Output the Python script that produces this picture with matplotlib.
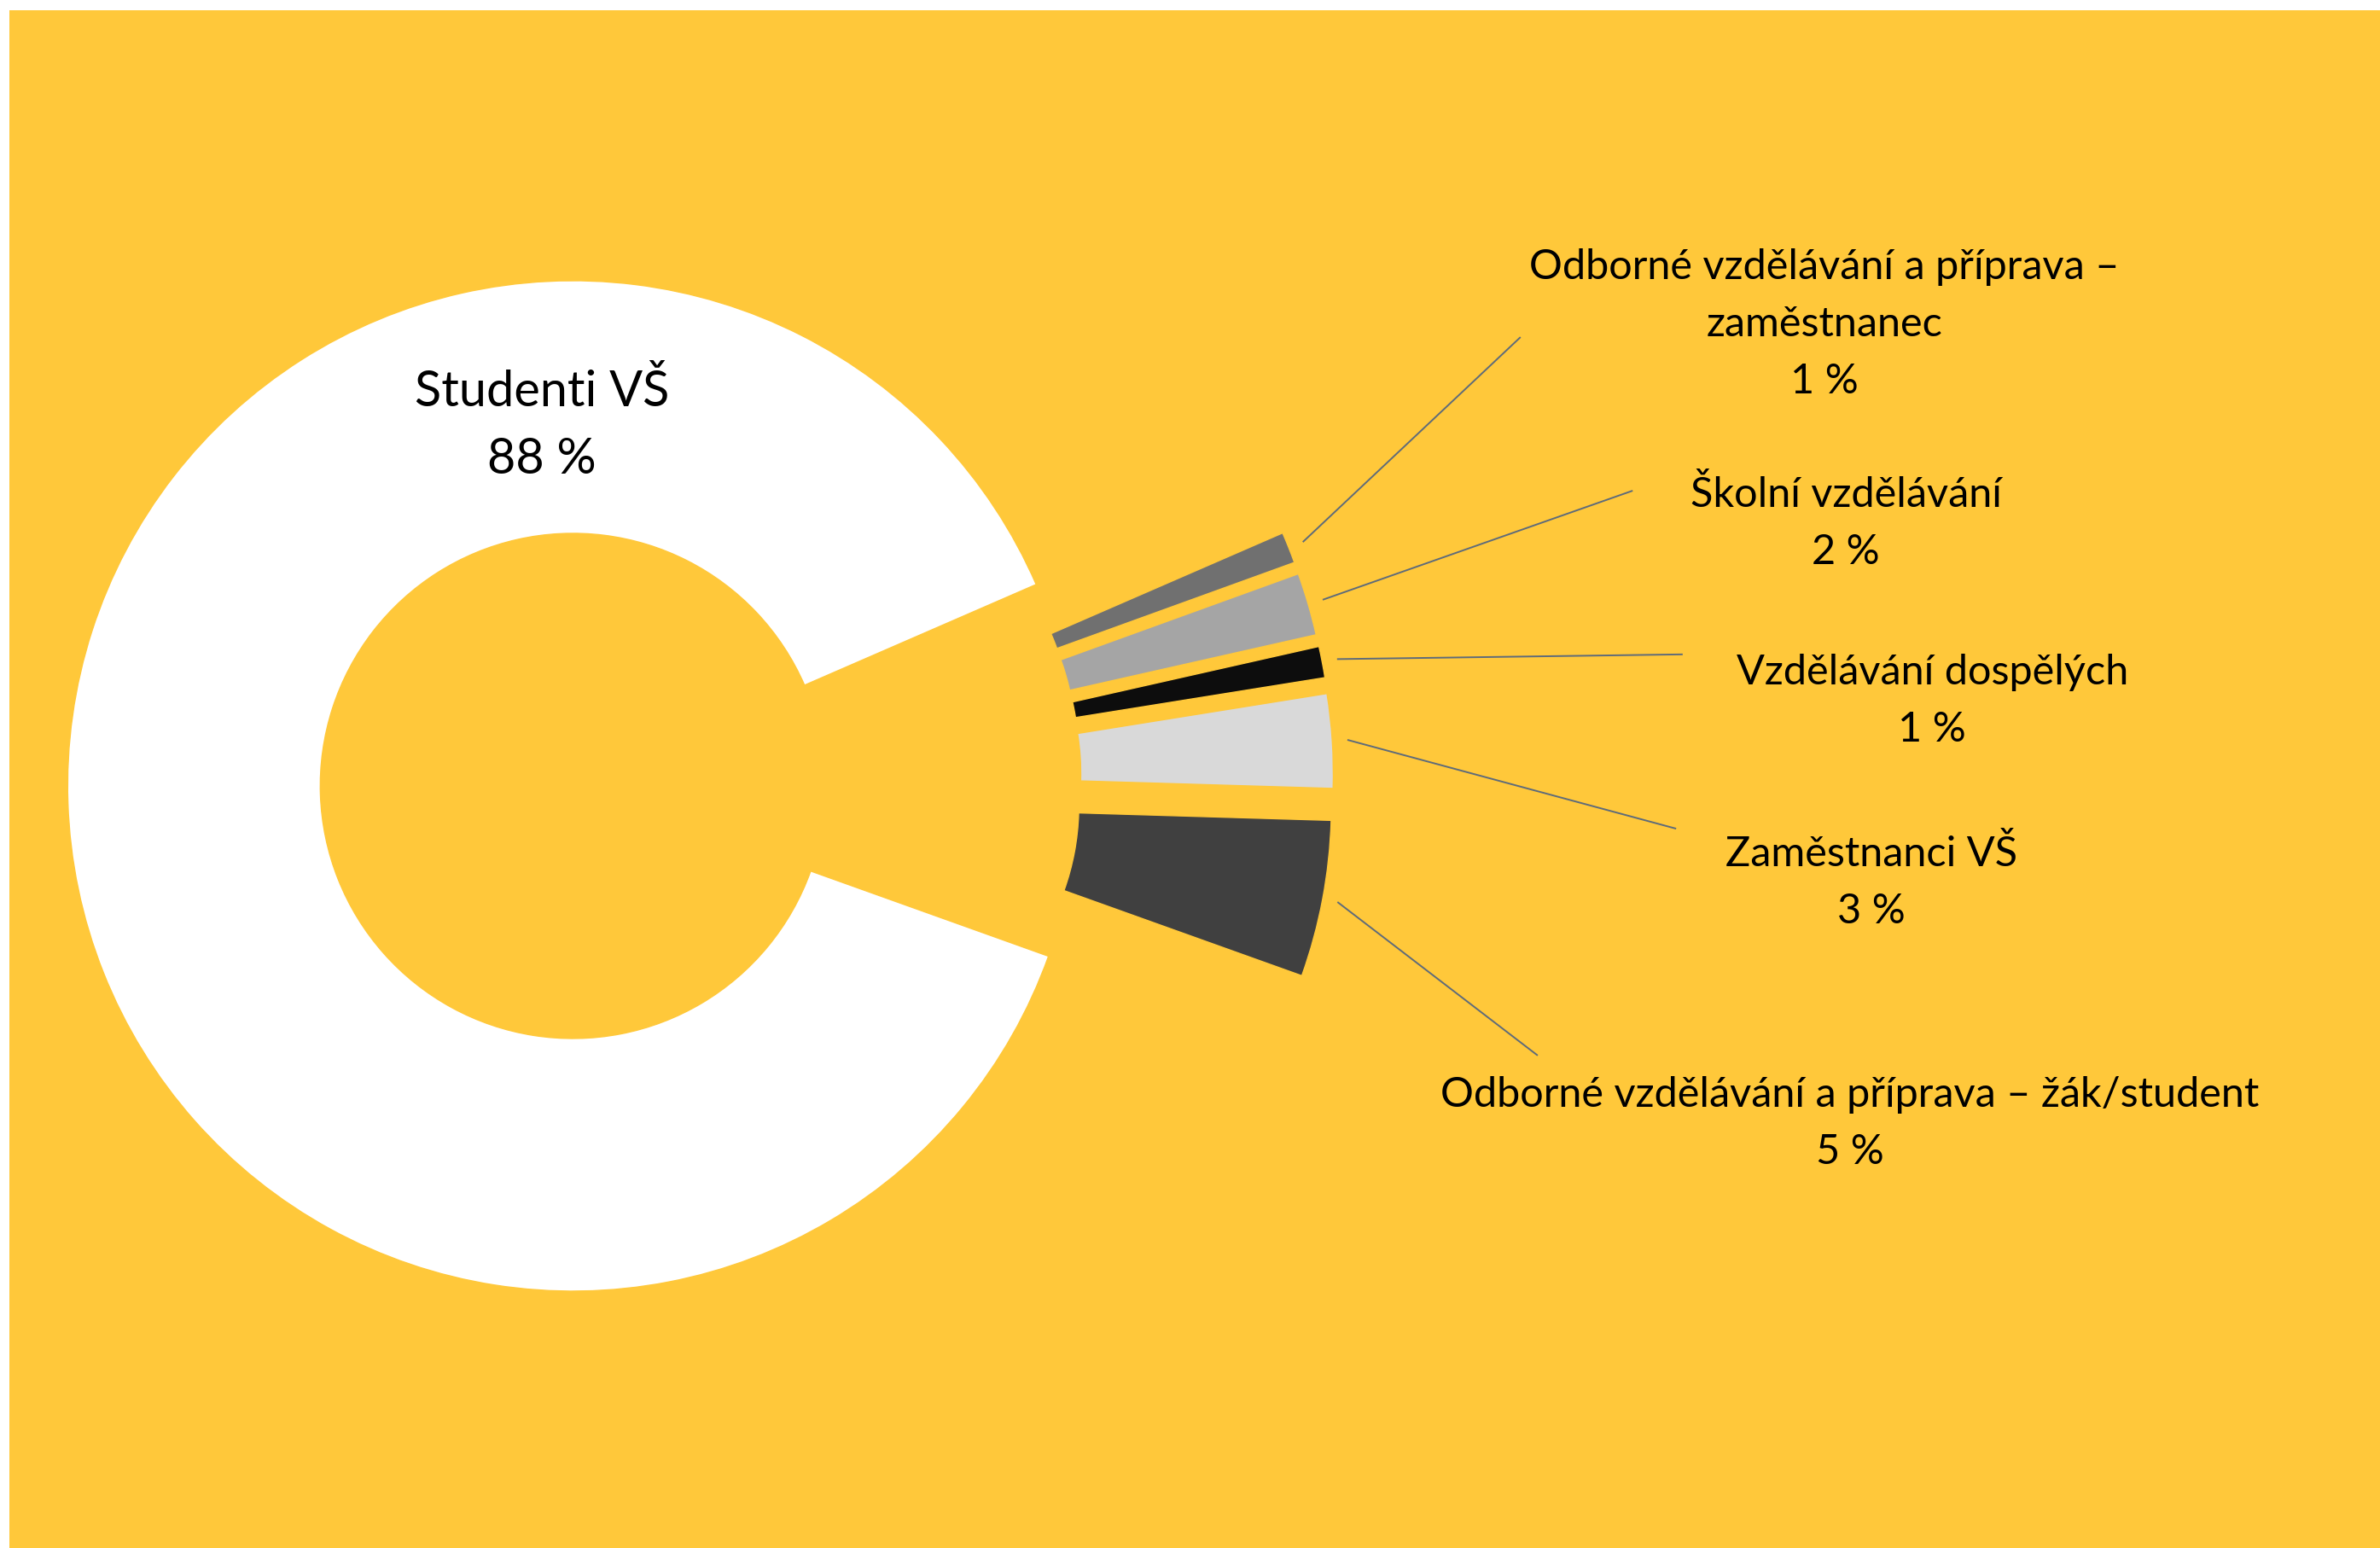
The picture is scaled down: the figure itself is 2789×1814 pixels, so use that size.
import numpy as np
import matplotlib
matplotlib.use("Agg")
import matplotlib.pyplot as plt
from matplotlib.patches import Rectangle

# data
categories = ["Studenti VŠ",
              "Odborné vzdělávání a příprava –\nzaměstnanec",
              "Školní vzdělávání",
              "Vzdělávání dospělých",
              "Zaměstnanci VŠ",
              "Odborné vzdělávání a příprava – žák/student"]
shares = [88, 1, 2, 1, 3, 5]
pct_labels = ["88 %", "1 %", "2 %", "1 %", "3 %", "5 %"]
colors = ["#FFFFFF", "#707070", "#A5A5A5", "#0D0D0D", "#D9D9D9", "#404040"]

YELLOW = "#FFC83A"
W, H = 2789, 1814
R = 592.0          # outer radius in px
cx, cy = 821, 916  # pie centre in px (from top-left)

plt.rcParams["font.family"] = ["Lato", "DejaVu Sans"]

fig = plt.figure(figsize=(W / 100, H / 100), dpi=100, facecolor="white")
fig.patches.append(Rectangle((11 / W, 0), 1, (H - 12) / H, transform=fig.transFigure,
                             facecolor=YELLOW, edgecolor="none", zorder=0))
ax = fig.add_axes([0, 0, 1, 1])
ax.set_zorder(1)
ax.set_facecolor("none")

wedges, _ = ax.pie(shares, colors=colors, startangle=-19.7, counterclock=False,
                   explode=[0.253] * len(shares), radius=1.0,
                   wedgeprops=dict(width=0.5, edgecolor=YELLOW, linewidth=1.0))

# pie() resets limits, so set them afterwards
ax.set_xlim(-cx / R, (W - cx) / R)
ax.set_ylim(-(H - cy) / R, cy / R)
ax.set_aspect("equal")
ax.axis("off")

# big slice label
ax.text(-0.314, 0.705, categories[0] + "\n" + pct_labels[0], ha="center", va="center",
        fontsize=41.5, linespacing=1.6, color="black")

# outside labels with leader lines
label_pos = [(2.225, 0.905), (2.267, 0.512), (2.438, 0.160), (2.318, -0.199), (2.275, -0.677)]
line_end = [(1.623, 0.880), (1.845, 0.576), (1.944, 0.252), (1.931, -0.093), (1.657, -0.542)]
for i in range(1, len(shares)):
    w = wedges[i]
    mid = np.deg2rad((w.theta1 + w.theta2) / 2)
    c = w.center
    sx, sy = c[0] + 1.03 * np.cos(mid), c[1] + 1.03 * np.sin(mid)
    ex, ey = line_end[i - 1]
    ax.plot([sx, ex], [sy, ey], color="#5E6B7A", lw=1.4, solid_capstyle="butt")
    lx, ly = label_pos[i - 1]
    ax.text(lx, ly, categories[i] + "\n" + pct_labels[i], ha="center", va="center",
            fontsize=35, linespacing=1.64, color="black")

fig.savefig("out.png", dpi=100, facecolor="white")
